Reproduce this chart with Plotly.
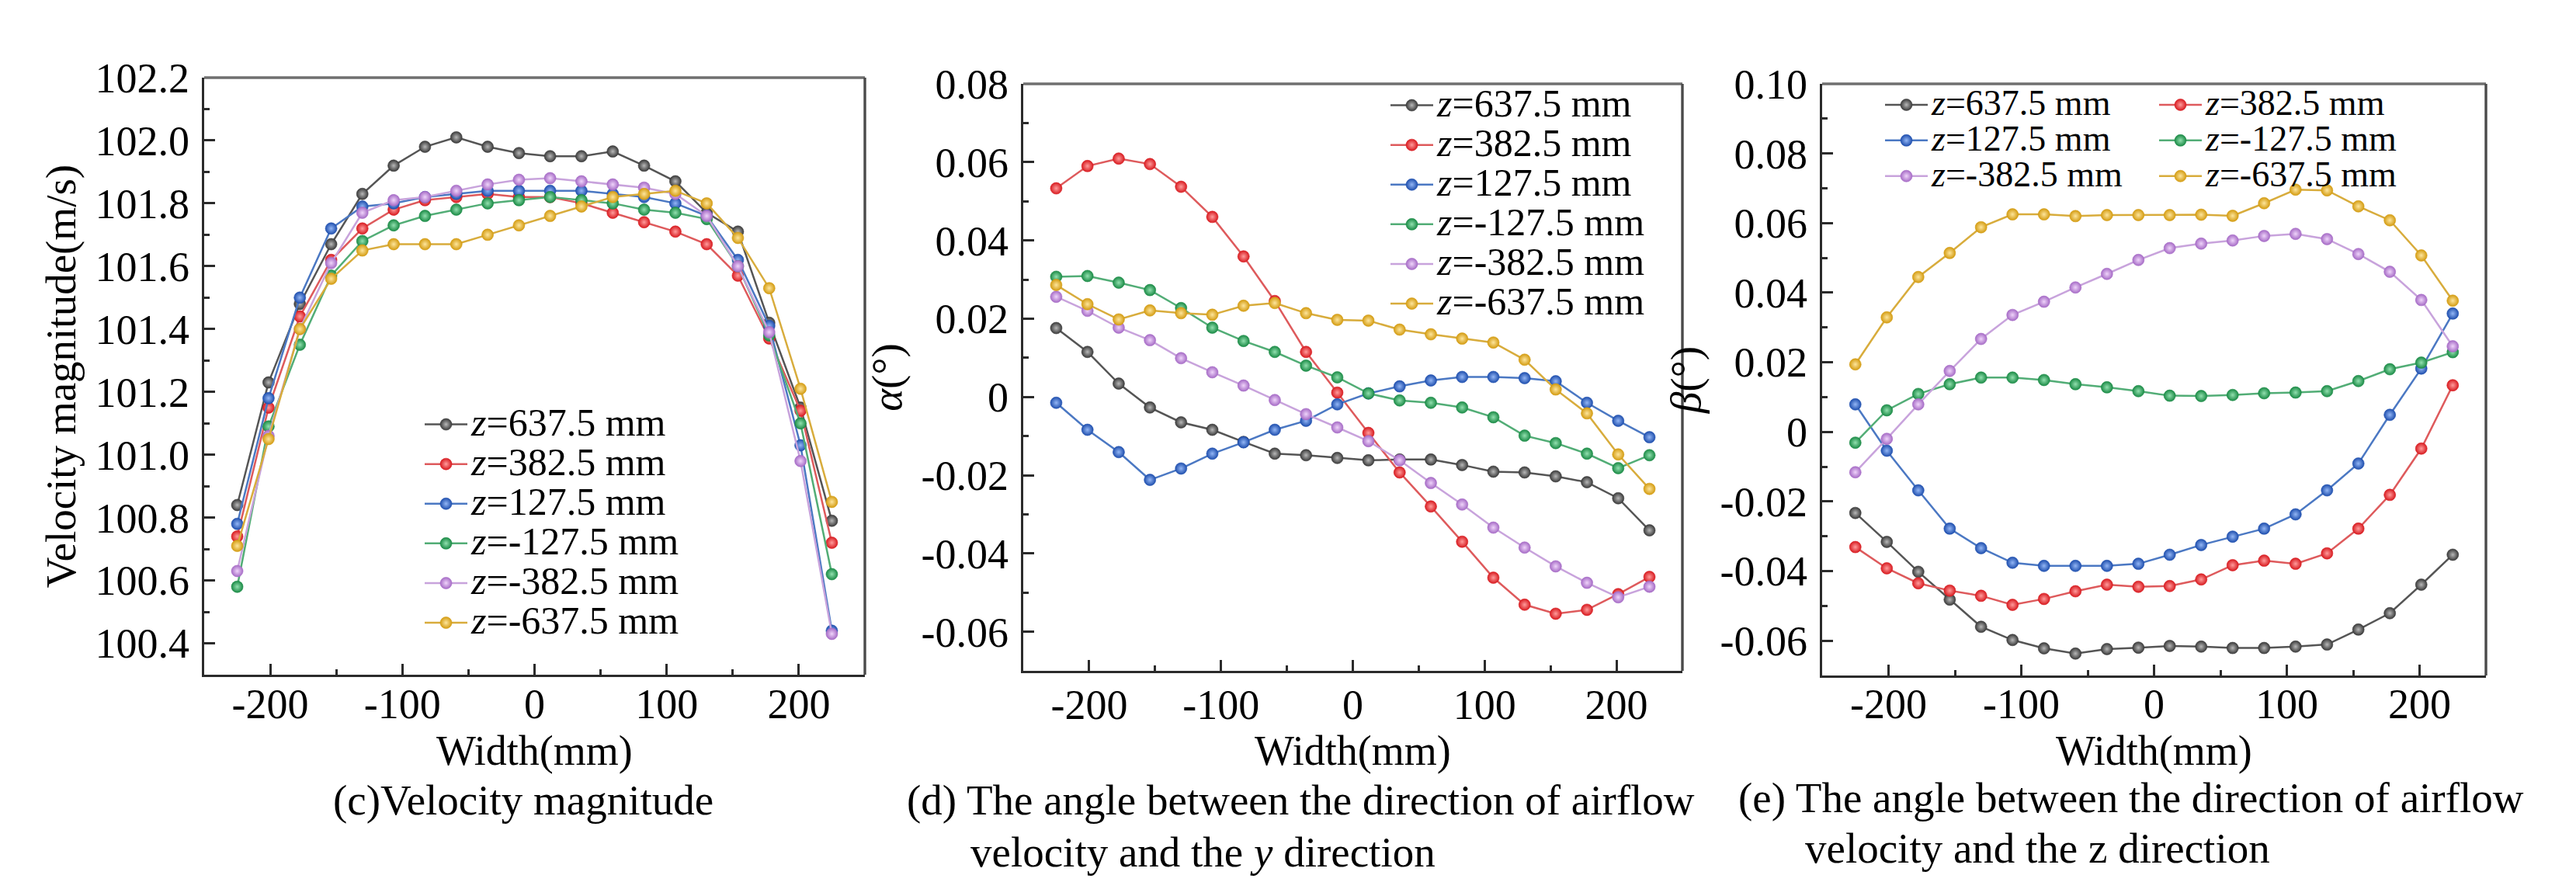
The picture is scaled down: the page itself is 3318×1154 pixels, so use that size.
import plotly.graph_objects as go

# sample positions across the width (mm)
WIDTH_MM = [-225.0, -201.3, -177.6, -153.9, -130.3, -106.6, -82.9, -59.2, -35.5, -11.8,
            11.8, 35.5, 59.2, 82.9, 106.6, 130.3, 153.9, 177.6, 201.3, 225.0]

Z_LABELS = ["637.5", "382.5", "127.5", "-127.5", "-382.5", "-637.5"]

# (c) velocity magnitude (m/s)
VEL_P637 = [100.84, 101.23, 101.48, 101.67, 101.83, 101.92, 101.98, 102.01, 101.98, 101.96,
            101.95, 101.95, 101.965, 101.92, 101.87, 101.77, 101.71, 101.42, 101.15, 100.79]
VEL_P382 = [100.74, 101.15, 101.44, 101.62, 101.72, 101.78, 101.81, 101.82, 101.83, 101.82,
            101.82, 101.80, 101.77, 101.74, 101.71, 101.67, 101.57, 101.37, 101.14, 100.72]
VEL_P127 = [100.78, 101.18, 101.50, 101.72, 101.79, 101.80, 101.82, 101.83, 101.84, 101.84,
            101.84, 101.84, 101.83, 101.82, 101.80, 101.76, 101.62, 101.41, 101.03, 100.44]
VEL_M127 = [100.58, 101.09, 101.35, 101.57, 101.68, 101.73, 101.76, 101.78, 101.80, 101.81,
            101.82, 101.81, 101.80, 101.78, 101.77, 101.75, 101.60, 101.38, 101.10, 100.62]
VEL_M382 = [100.63, 101.06, 101.40, 101.61, 101.77, 101.81, 101.82, 101.84, 101.86, 101.875,
            101.88, 101.87, 101.86, 101.85, 101.83, 101.76, 101.60, 101.39, 100.98, 100.43]
VEL_M637 = [100.71, 101.05, 101.40, 101.56, 101.65, 101.67, 101.67, 101.67, 101.70, 101.73,
            101.76, 101.79, 101.82, 101.83, 101.84, 101.80, 101.69, 101.53, 101.21, 100.85]

# (d) alpha angle (deg)
ALPHA_P637 = [0.0176, 0.0115, 0.0034, -0.0027, -0.0065, -0.0084, -0.0115, -0.0145, -0.0149, -0.0156,
              -0.0162, -0.0160, -0.0160, -0.0174, -0.0191, -0.0193, -0.0203, -0.0218, -0.0259, -0.0341]
ALPHA_P382 = [0.0533, 0.0590, 0.0609, 0.0595, 0.0537, 0.0460, 0.0359, 0.0245, 0.0115, 0.0011,
              -0.0092, -0.0193, -0.0280, -0.0370, -0.0462, -0.0531, -0.0554, -0.0544, -0.0504, -0.0460]
ALPHA_P127 = [-0.0015, -0.0084, -0.0141, -0.0212, -0.0183, -0.0145, -0.0116, -0.0084, -0.0061, -0.0019,
              0.0009, 0.0027, 0.0042, 0.0051, 0.0051, 0.0048, 0.0040, -0.0015, -0.0061, -0.0103]
ALPHA_M127 = [0.0307, 0.0309, 0.0292, 0.0273, 0.0227, 0.0177, 0.0143, 0.0115, 0.0080, 0.0050,
              0.0009, -0.0009, -0.0015, -0.0027, -0.0052, -0.0099, -0.0118, -0.0145, -0.0182, -0.0149]
ALPHA_M382 = [0.0256, 0.0220, 0.0177, 0.0145, 0.0099, 0.0063, 0.0029, -0.0008, -0.0044, -0.0078,
              -0.0113, -0.0162, -0.0220, -0.0275, -0.0334, -0.0385, -0.0433, -0.0475, -0.0512, -0.0485]
ALPHA_M637 = [0.0286, 0.0237, 0.0198, 0.0221, 0.0214, 0.0210, 0.0233, 0.0240, 0.0214, 0.0197,
              0.0195, 0.0172, 0.0160, 0.0149, 0.0139, 0.0095, 0.0019, -0.0042, -0.0147, -0.0235]

# (e) beta angle (deg)
BETA_P637 = [-0.0233, -0.0316, -0.0402, -0.0482, -0.0560, -0.0598, -0.0622, -0.0637, -0.0624, -0.0620,
             -0.0615, -0.0617, -0.0621, -0.0621, -0.0617, -0.0611, -0.0568, -0.0521, -0.0439, -0.0353]
BETA_P382 = [-0.0331, -0.0392, -0.0435, -0.0456, -0.0471, -0.0497, -0.0480, -0.0458, -0.0439, -0.0445,
             -0.0443, -0.0424, -0.0383, -0.0370, -0.0379, -0.0349, -0.0278, -0.0181, -0.0048, 0.0134]
BETA_P127 = [0.0079, -0.0054, -0.0168, -0.0278, -0.0334, -0.0376, -0.0385, -0.0385, -0.0385, -0.0379,
             -0.0353, -0.0325, -0.0301, -0.0278, -0.0237, -0.0168, -0.0091, 0.0049, 0.0182, 0.0340]
BETA_M127 = [-0.0031, 0.0062, 0.0109, 0.0137, 0.0156, 0.0156, 0.0149, 0.0137, 0.0128, 0.0117,
             0.0104, 0.0103, 0.0106, 0.0111, 0.0113, 0.0117, 0.0146, 0.0180, 0.0199, 0.0229]
BETA_M382 = [-0.0116, -0.0020, 0.0079, 0.0175, 0.0267, 0.0336, 0.0374, 0.0415, 0.0454, 0.0494,
             0.0528, 0.0541, 0.0550, 0.0563, 0.0569, 0.0554, 0.0511, 0.0460, 0.0379, 0.0246]
BETA_M637 = [0.0194, 0.0329, 0.0445, 0.0514, 0.0588, 0.0625, 0.0625, 0.0620, 0.0623, 0.0623,
             0.0623, 0.0624, 0.0621, 0.0657, 0.0696, 0.0694, 0.0648, 0.0608, 0.0507, 0.0377]

X_TICKS = [-200, -100, 0, 100, 200]
X_TICK_TEXT = ["-200", "-100", "0", "100", "200"]
VEL_TICKS = [100.4, 100.6, 100.8, 101.0, 101.2, 101.4, 101.6, 101.8, 102.0, 102.2]
VEL_TICK_TEXT = ["100.4", "100.6", "100.8", "101.0", "101.2", "101.4", "101.6", "101.8", "102.0", "102.2"]
ALPHA_TICKS = [-0.06, -0.04, -0.02, 0, 0.02, 0.04, 0.06, 0.08]
ALPHA_TICK_TEXT = ["-0.06", "-0.04", "-0.02", "0", "0.02", "0.04", "0.06", "0.08"]
BETA_TICKS = [-0.06, -0.04, -0.02, 0, 0.02, 0.04, 0.06, 0.08, 0.10]
BETA_TICK_TEXT = ["-0.06", "-0.04", "-0.02", "0", "0.02", "0.04", "0.06", "0.08", "0.10"]

FONT = "Liberation Serif"
W, H = 3318, 1154

MARKER_COLORS = ["#3a3a3a", "#d81b20", "#1f4fae", "#1b8b46", "#a66bc6", "#d49c12"]
GLOW_COLORS = ["#b8b8b8", "#ff9c9c", "#93b6f5", "#92e0af", "#efd4fa", "#fde59c"]
LINE_COLORS = ["#555555", "#de5a5c", "#4b78c3", "#52ad76", "#c8a3dc", "#d8ac3c"]
AXIS_COLOR = "#2b2b2b"

velocity = [VEL_P637, VEL_P382, VEL_P127, VEL_M127, VEL_M382, VEL_M637]
alpha = [ALPHA_P637, ALPHA_P382, ALPHA_P127, ALPHA_M127, ALPHA_M382, ALPHA_M637]
beta = [BETA_P637, BETA_P382, BETA_P127, BETA_M127, BETA_M382, BETA_M637]


def px_x(p):
    return p / W


def px_y(p):
    return 1 - p / H


fig = go.Figure()


def add_series(series, axis_id, legends, label_px):
    xa = "x" if axis_id == 1 else f"x{axis_id}"
    ya = "y" if axis_id == 1 else f"y{axis_id}"
    for i, vals in enumerate(series):
        fig.add_trace(
            go.Scatter(
                x=WIDTH_MM,
                y=vals,
                xaxis=xa,
                yaxis=ya,
                mode="lines+markers",
                name=f'<span style="font-size:{label_px}px"><i>z</i>={Z_LABELS[i]} mm</span>',
                legend=legends[i],
                line=dict(color=LINE_COLORS[i], width=2.5),
                marker=dict(
                    size=15,
                    color=MARKER_COLORS[i],
                    gradient=dict(type="radial", color=GLOW_COLORS[i]),
                    line=dict(width=0.6, color=MARKER_COLORS[i]),
                ),
            )
        )


add_series(velocity, 1, ["legend"] * 6, 50)
add_series(alpha, 2, ["legend2"] * 6, 50)
add_series(beta, 3, ["legend3", "legend4"] * 3, 46)


def axis_style(**kw):
    base = dict(
        showline=True,
        linecolor=AXIS_COLOR,
        linewidth=3.4,
        mirror=False,
        ticks="inside",
        ticklen=14,
        tickwidth=3,
        tickcolor=AXIS_COLOR,
        showgrid=False,
        zeroline=False,
        tickfont=dict(family=FONT, size=54, color="black"),
        tickmode="array",
        automargin=False,
    )
    base.update(kw)
    return base


def x_axis(dom, anchor, standoff):
    return axis_style(
        domain=dom,
        anchor=anchor,
        range=[-250, 250],
        tickvals=X_TICKS,
        ticktext=X_TICK_TEXT,
        ticklabelstandoff=standoff,
        minor=dict(ticks="inside", ticklen=7, tickwidth=3, tickcolor=AXIS_COLOR,
                   tickmode="linear", tick0=-250, dtick=50),
    )


def y_axis(dom, anchor, rng, vals, text, minor_dtick, title):
    return axis_style(
        domain=dom,
        anchor=anchor,
        range=rng,
        tickvals=vals,
        ticktext=text,
        ticklabelstandoff=5,
        minor=dict(ticks="inside", ticklen=7, tickwidth=3, tickcolor=AXIS_COLOR,
                   tickmode="linear", tick0=vals[0], dtick=minor_dtick),
        title=dict(text=title, font=dict(family=FONT, size=55, color="black"), standoff=8),
    )


PANEL_X = [(255, 1106), (1310, 2159), (2339, 3194)]

fig.update_layout(
    width=W,
    height=H,
    margin=dict(l=0, r=0, t=0, b=0),
    paper_bgcolor="white",
    plot_bgcolor="white",
    font=dict(family=FONT, color="black"),
    xaxis=x_axis([px_x(PANEL_X[0][0]), px_x(PANEL_X[0][1])], "y", -12),
    yaxis=y_axis([px_y(861), px_y(92)], "x", [100.3, 102.2], VEL_TICKS, VEL_TICK_TEXT, 0.1,
                 "Velocity magnitude(m/s)"),
    xaxis2=x_axis([px_x(PANEL_X[1][0]), px_x(PANEL_X[1][1])], "y2", -6),
    yaxis2=y_axis([px_y(856), px_y(100)], "x2", [-0.07, 0.08], ALPHA_TICKS, ALPHA_TICK_TEXT, 0.01,
                  "<i>α</i>(°)"),
    xaxis3=x_axis([px_x(PANEL_X[2][0]), px_x(PANEL_X[2][1])], "y3", -13),
    yaxis3=y_axis([px_y(862), px_y(100)], "x3", [-0.07, 0.10], BETA_TICKS, BETA_TICK_TEXT, 0.01,
                  "<i>β</i>(°)"),
)

# lighter frame on the top and right sides of every panel
for xr, yr in [("x", "y"), ("x2", "y2"), ("x3", "y3")]:
    fig.add_shape(type="line", xref=f"{xr} domain", yref=f"{yr} domain", x0=0, x1=1, y0=1, y1=1,
                  line=dict(color="#6f6f6f", width=3.4))
    fig.add_shape(type="line", xref=f"{xr} domain", yref=f"{yr} domain", x0=1, x1=1, y0=0, y1=1,
                  line=dict(color="#4a4a4a", width=3.4))

legend_base = dict(bgcolor="rgba(0,0,0,0)", xanchor="left", yanchor="top", itemwidth=55,
                   tracegroupgap=0)
fig.update_layout(
    legend=dict(legend_base, x=px_x(534), y=px_y(508), font=dict(family=FONT, size=37, color="black")),
    legend2=dict(legend_base, x=px_x(1778), y=px_y(97), font=dict(family=FONT, size=37, color="black")),
    legend3=dict(legend_base, x=px_x(2415), y=px_y(99), font=dict(family=FONT, size=33, color="black")),
    legend4=dict(legend_base, x=px_x(2768), y=px_y(99), font=dict(family=FONT, size=33, color="black")),
)

# x-axis titles, one per panel
for x0, x1 in PANEL_X:
    fig.add_annotation(text="Width(mm)", xref="paper", yref="paper", x=px_x((x0 + x1) / 2),
                       y=px_y(959), xanchor="center", yanchor="middle", showarrow=False,
                       font=dict(family=FONT, size=54, color="black"))

cap_font = dict(family=FONT, size=55, color="black")
captions = [
    ("(c)Velocity magnitude", 666, 1022, "center"),
    ("(d) The angle between the direction of airflow", 1158, 1022, "left"),
    ("velocity and the <i>y</i> direction", 1240, 1089, "left"),
    ("(e) The angle between the direction of airflow", 2229, 1019, "left"),
    ("velocity and the z direction", 2315, 1084, "left"),
]
for text, cx, cy, anchor in captions:
    fig.add_annotation(text=text, xref="paper", yref="paper", x=px_x(cx), y=px_y(cy),
                       xanchor=anchor, yanchor="middle", showarrow=False, font=cap_font)

fig.write_html("out.html")
